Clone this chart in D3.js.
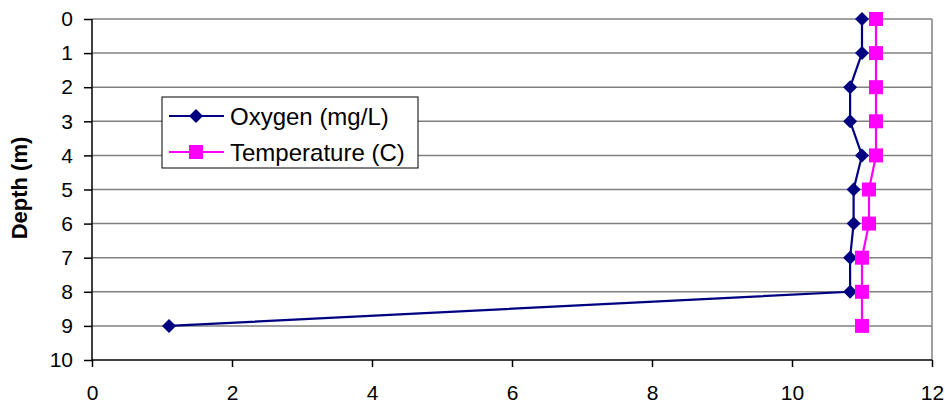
<!DOCTYPE html>
<html>
<head>
<meta charset="utf-8">
<script src="https://cdn.jsdelivr.net/npm/d3@7"></script>
<style>
  body { margin: 0; background: white; }
  text { font-family: "Liberation Sans", Arial, sans-serif; }
</style>
</head>
<body>
<div id="chart"></div>
<script>
// depth profile data
const depths = [0, 1, 2, 3, 4, 5, 6, 7, 8, 9];
const oxygen = [11.0, 11.0, 10.83, 10.83, 11.0, 10.88, 10.88, 10.83, 10.83, 1.1];
const temperature = [11.2, 11.2, 11.2, 11.2, 11.2, 11.1, 11.1, 11.0, 11.0, 11.0];
const xTicks = [0, 2, 4, 6, 8, 10, 12];
const yTicks = [0, 1, 2, 3, 4, 5, 6, 7, 8, 9, 10];

let dim = { width: 945, height: 407 };
let plot = { left: 92, right: 932, top: 19, bottom: 360 };

let svg = d3.select('#chart').append('svg')
    .attr('width', dim.width)
    .attr('height', dim.height);

let x = d3.scaleLinear().domain([0, 12]).range([plot.left, plot.right]);
let y = d3.scaleLinear().domain([0, 10]).range([plot.top, plot.bottom]);

// horizontal gridlines
svg.append('g').selectAll('line')
    .data(yTicks.slice(0, -1))
    .join('line')
    .attr('x1', plot.left).attr('x2', plot.right)
    .attr('y1', d => y(d)).attr('y2', d => y(d))
    .attr('stroke', '#808080').attr('stroke-width', 1.5);

// right border
svg.append('line')
    .attr('x1', plot.right).attr('x2', plot.right)
    .attr('y1', plot.top).attr('y2', plot.bottom)
    .attr('stroke', '#808080').attr('stroke-width', 1.5);

// axes
let yAxis = svg.append('g')
    .attr('transform', `translate(${plot.left},0)`)
    .call(d3.axisLeft(y).tickValues(yTicks).tickSize(8).tickPadding(11).tickFormat(d3.format('d')));
let xAxis = svg.append('g')
    .attr('transform', `translate(0,${plot.bottom})`)
    .call(d3.axisBottom(x).tickValues(xTicks).tickSize(7).tickPadding(18).tickFormat(d3.format('d')));

[xAxis, yAxis].forEach(a => {
    a.select('.domain').attr('stroke', '#000').attr('stroke-width', 1.5);
    a.selectAll('.tick line').attr('stroke', '#000').attr('stroke-width', 1.5);
    a.selectAll('text').attr('font-size', 21).attr('fill', '#000')
        .style('font-family', '"Liberation Sans", Arial, sans-serif');
});
yAxis.select('.domain').attr('d', `M0,${plot.top}V${plot.bottom}`);
xAxis.select('.domain').attr('d', `M${plot.left},0H${plot.right}`);

// y axis title
svg.append('text')
    .attr('transform', 'translate(27,188) rotate(-90)')
    .attr('text-anchor', 'middle')
    .attr('font-size', 22).attr('font-weight', 'bold')
    .text('Depth (m)');

let oxyData = depths.map((d, i) => ({ depth: d, v: oxygen[i] }));
let tempData = depths.map((d, i) => ({ depth: d, v: temperature[i] }));

let line = d3.line().x(d => x(d.v)).y(d => y(d.depth));

svg.append('path').datum(oxyData)
    .attr('d', line).attr('fill', 'none')
    .attr('stroke', '#000080').attr('stroke-width', 2.2);
svg.append('path').datum(tempData)
    .attr('d', line).attr('fill', 'none')
    .attr('stroke', '#FF00FF').attr('stroke-width', 2.2);

const diamond = 'M0,-7L7,0L0,7L-7,0Z';

svg.append('g').selectAll('path')
    .data(oxyData)
    .join('path')
    .attr('d', diamond)
    .attr('transform', d => `translate(${x(d.v)},${y(d.depth)})`)
    .attr('fill', '#000080');

svg.append('g').selectAll('rect')
    .data(tempData)
    .join('rect')
    .attr('x', d => x(d.v) - 7).attr('y', d => y(d.depth) - 7)
    .attr('width', 14).attr('height', 14)
    .attr('fill', '#FF00FF');

// legend
let legend = svg.append('g').attr('transform', 'translate(162,97)');
legend.append('rect')
    .attr('width', 256).attr('height', 71)
    .attr('fill', 'white').attr('stroke', '#000').attr('stroke-width', 1);

let items = [
    { label: 'Oxygen (mg/L)', color: '#000080', shape: 'diamond', cy: 19 },
    { label: 'Temperature (C)', color: '#FF00FF', shape: 'square', cy: 55 }
];
items.forEach(it => {
    legend.append('line')
        .attr('x1', 7).attr('x2', 62)
        .attr('y1', it.cy).attr('y2', it.cy)
        .attr('stroke', it.color).attr('stroke-width', 2.2);
    if (it.shape == 'diamond') {
        legend.append('path').attr('d', diamond)
            .attr('transform', `translate(34,${it.cy})`)
            .attr('fill', it.color);
    } else {
        legend.append('rect')
            .attr('x', 27).attr('y', it.cy - 7)
            .attr('width', 14).attr('height', 14)
            .attr('fill', it.color);
    }
    legend.append('text')
        .attr('x', 68).attr('y', it.cy + 8.5)
        .attr('font-size', 24)
        .text(it.label);
});
</script>
</body>
</html>
